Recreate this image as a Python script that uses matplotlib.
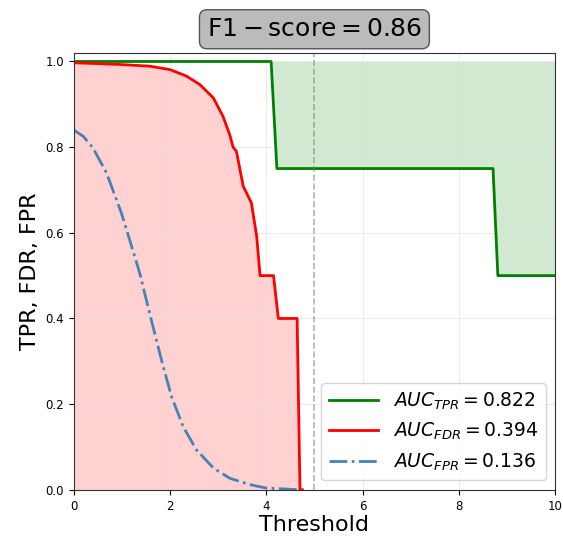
import matplotlib
matplotlib.use("Agg")
import matplotlib.pyplot as plt

tpr_x = [0, 4.10, 4.22, 8.71, 8.81, 10]
tpr_y = [1.0, 1.0, 0.75, 0.75, 0.5, 0.5]

fdr_x = [0, 0.5, 0.96, 1.58, 2.0, 2.34, 2.62, 2.9, 3.1, 3.24, 3.31, 3.38, 3.52, 3.69, 3.80, 3.87, 4.15, 4.25, 4.64, 4.70, 4.75]
fdr_y = [0.997, 0.995, 0.993, 0.989, 0.981, 0.966, 0.946, 0.915, 0.872, 0.829, 0.800, 0.79, 0.709, 0.67, 0.592, 0.5, 0.5, 0.4, 0.4, 0.0, 0.0]

fpr_x = [0, 0.2, 0.40, 0.68, 0.99, 1.16, 1.37, 1.61, 1.82, 2.03, 2.27, 2.55, 2.90, 3.24, 3.66, 4.0, 4.7]
fpr_y = [0.84, 0.825, 0.798, 0.740, 0.646, 0.584, 0.506, 0.397, 0.304, 0.218, 0.148, 0.093, 0.051, 0.027, 0.012, 0.004, 0.0]

threshold = 5.0
f1 = 0.86
auc_tpr, auc_fdr, auc_fpr = 0.822, 0.394, 0.136

fig = plt.figure(figsize=(5.63, 5.4), dpi=100)
ax = fig.add_axes([0.131, 0.093, 0.855, 0.809])

ax.grid(True, color='#dddddd', linewidth=0.6, alpha=0.7)
ax.fill_between(tpr_x, tpr_y, 1.0, color='green', alpha=0.18, linewidth=0)
ax.fill_between(fdr_x, 0, fdr_y, color='red', alpha=0.18, linewidth=0)
ax.plot(tpr_x, tpr_y, color='green', lw=2, label=rf'$AUC_{{TPR}}={auc_tpr:.3f}$')
ax.plot(fdr_x, fdr_y, color='red', lw=2, label=rf'$AUC_{{FDR}}={auc_fdr:.3f}$')
ax.plot(fpr_x, fpr_y, color='steelblue', lw=2, ls='-.', label=rf'$AUC_{{FPR}}={auc_fpr:.3f}$')
ax.axvline(threshold, color='gray', ls='--', lw=1.2, alpha=0.6)

ax.set_xlim(0, 10)
ax.set_ylim(0, 1.02)
ax.set_xticks([0, 2, 4, 6, 8, 10])
ax.set_yticks([0.0, 0.2, 0.4, 0.6, 0.8, 1.0])
ax.tick_params(labelsize=8.5)
for s in ax.spines.values():
    s.set_color('#333333')
ax.set_xlabel('Threshold', fontsize=16, labelpad=2)
ax.set_ylabel('TPR, FDR, FPR', fontsize=16)
ax.set_title(rf'$\rm{{F1-score}}={f1:.2f}$', fontsize=18, pad=12,
             bbox=dict(boxstyle='round,pad=0.3', facecolor='#bbbbbb', edgecolor='#555555'))
ax.legend(loc='lower right', fontsize=13.5, handlelength=2.6)

fig.savefig('out.png', dpi=100)
